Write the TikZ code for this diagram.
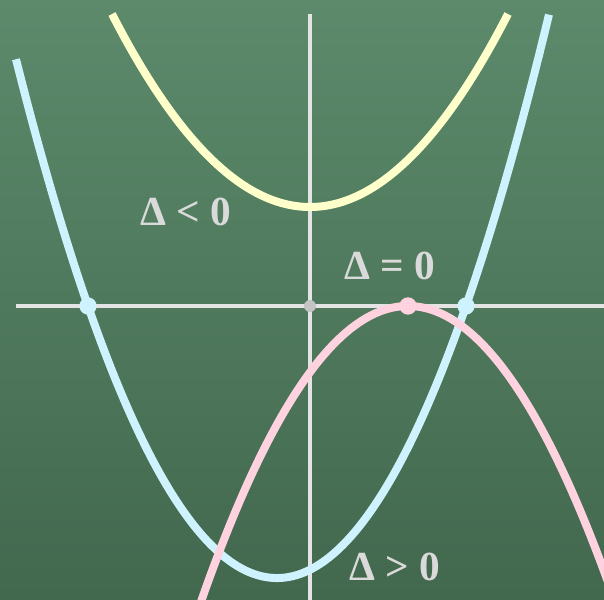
\documentclass[tikz,border=0pt]{standalone}
\usepackage{fontspec}
\setmainfont{Liberation Serif}
\usepackage{xcolor}
\usepackage{tikz}

\definecolor{boardtop}{RGB}{92,138,107}
\definecolor{boardbot}{RGB}{66,104,78}
\definecolor{chalkaxis}{RGB}{228,228,228}
\definecolor{chalkdot}{RGB}{196,196,196}
\definecolor{chalktext}{RGB}{218,218,218}

\begin{document}
\begin{tikzpicture}[x=7.5pt, y=7.5pt,
    curve/.style={line width=6pt},
    axis/.style={line width=2.5pt, chalkaxis},
    deltalabel/.style={chalktext, font=\fontsize{31}{36}\selectfont\bfseries, inner sep=0pt}]
    % --- LAYER 1: PAPAN TULIS ---
    \useasboundingbox (-31,-29.4) rectangle (29.4,30.6);
    \shade[top color=boardtop, bottom color=boardbot] (-31,-29.4) rectangle (29.4,30.6);
    \clip (-31,-29.4) rectangle (29.4,30.6);

    % --- LAYER 2: SUMBU KOORDINAT ---
    \draw[axis] (-29.4,0) -- (29.4,0);
    \draw[axis] (0,-29.4) -- (0,29.2);
    \fill[chalkdot] (0,0) circle (4.5pt);

    % --- LAYER 3: PARABOLA ---
    \definecolor{colorNeg}{RGB}{255,255,204}
    \definecolor{colorPos}{RGB}{206,243,255}
    \definecolor{colorZero}{RGB}{255,210,224}

    % Delta < 0 (tidak memotong sumbu x)
    \draw[curve, colorNeg] plot[domain=-19.8:19.8, samples=80, smooth] (\x, {9.9+0.04923*\x*\x});
    % Delta > 0 (dua titik potong)
    \draw[curve, colorPos] plot[domain=-29.4:23.9, samples=100, smooth] (\x, {0.07615*(\x+22.2)*(\x-15.6)});
    % Delta = 0 (menyinggung sumbu x)
    \draw[curve, colorZero] plot[domain=-11:30.5, samples=100, smooth] (\x, {-0.069*(\x-9.8)*(\x-9.8)});

    % --- LAYER 4: TITIK POTONG ---
    \foreach \r in {-22.2, 15.6} {
        \fill[colorPos] (\r,0) circle (6.5pt);
    }
    \fill[colorZero] (9.8,0) circle (6.5pt);

    % --- LAYER 5: LABEL DISKRIMINAN ---
    \node[deltalabel] (neg) at (-12.4,9.4) {Δ < 0};
    \node[deltalabel] (zero) at (8.0,4.0) {Δ = 0};
    \node[deltalabel] (pos) at (8.5,-26.1) {Δ > 0};

\end{tikzpicture}
\end{document}
